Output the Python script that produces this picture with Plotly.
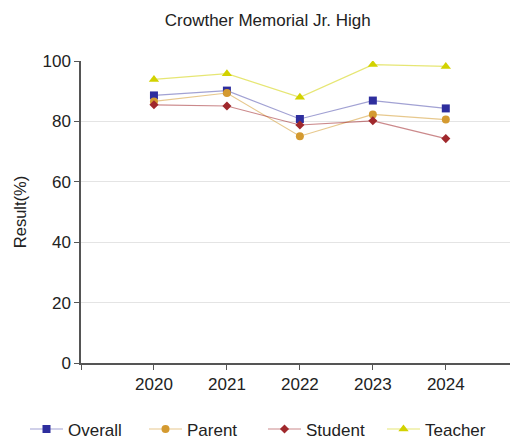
import plotly.graph_objects as go

years = [2020, 2021, 2022, 2023, 2024]
overall = [88.6, 90.2, 80.8, 86.9, 84.3]
parent = [86.6, 89.4, 75.1, 82.3, 80.6]
student = [85.5, 85.1, 78.8, 80.2, 74.3]
teacher = [93.9, 95.8, 88.0, 98.8, 98.2]

series = [
    ("Overall", overall, "#2e2e9e", "rgba(46,46,158,0.45)", "square", 8),
    ("Parent", parent, "#d49a30", "rgba(212,154,48,0.55)", "circle", 8),
    ("Student", student, "#a0282c", "rgba(160,40,44,0.55)", "diamond", 7),
    ("Teacher", teacher, "#d2d200", "rgba(210,210,0,0.55)", "triangle-up", 9),
]

fig = go.Figure()
for name, vals, mc, lc, sym, sz in series:
    fig.add_trace(go.Scatter(
        x=years, y=vals, name=name, mode="lines+markers",
        line=dict(color=lc, width=1.2),
        marker=dict(color=mc, symbol=sym, size=sz),
    ))

fig.update_layout(
    width=510, height=440,
    margin=dict(l=81, r=0, t=61, b=77, autoexpand=False),
    paper_bgcolor="white", plot_bgcolor="white",
    font=dict(family="Liberation Sans, Arial, sans-serif", color="#222", size=16.5),
    title=dict(text="Crowther Memorial Jr. High", x=0.525, xanchor="center",
               y=0.955, yanchor="middle", font=dict(size=17)),
    showlegend=True,
    legend=dict(orientation="h", x=(25 - 81) / 429, xanchor="left", y=-0.22, yanchor="middle",
                font=dict(size=17), tracegroupgap=0, itemwidth=33,
                entrywidth=71, entrywidthmode="pixels"),
    xaxis=dict(range=[2019, 2024.88], tickvals=[2019, 2020, 2021, 2022, 2023, 2024],
               ticktext=["", "2020", "2021", "2022", "2023", "2024"],
               showgrid=False, showline=True, linecolor="#555", linewidth=1.5,
               ticks="outside", ticklen=5, tickcolor="#555", zeroline=False,
               tickfont=dict(size=17), automargin=False),
    yaxis=dict(range=[0, 100], tickvals=[0, 20, 40, 60, 80, 100],
               showgrid=True, gridcolor="#e4e4e4", gridwidth=1,
               showline=True, linecolor="#555", linewidth=1.5,
               ticks="outside", ticklen=5, tickcolor="#555", zeroline=False,
               title=dict(text="Result(%)", standoff=12, font=dict(size=16.5)),
               tickfont=dict(size=17), automargin=False),
)

fig.write_html("out.html", config={"displayModeBar": False},
               post_script="document.body.style.margin='0';document.body.style.padding='0';document.body.style.overflow='hidden';")
